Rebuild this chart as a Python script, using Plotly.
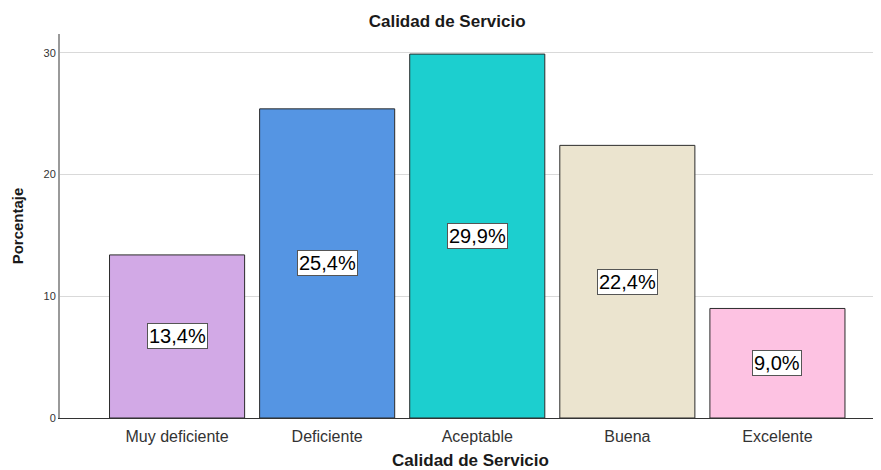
import plotly.graph_objects as go

# 데이터
categories = ["Muy deficiente", "Deficiente", "Aceptable", "Buena", "Excelente"]
values = [13.4, 25.4, 29.9, 22.4, 9.0]
labels = ["13,4%", "25,4%", "29,9%", "22,4%", "9,0%"]
colors = ["#d2a9e6", "#5595e3", "#1ccfcf", "#ebe4cf", "#fdc2e2"]
y_ticks = [0, 10, 20, 30]

FONT = "Liberation Sans, Arial, sans-serif"

fig = go.Figure(go.Bar(
    x=categories,
    y=values,
    width=0.9,
    marker=dict(color=colors, line=dict(color="#2b2b2b", width=1)),
    showlegend=False,
    hoverinfo="skip"
))

# 막대 가운데 값 라벨
for cat, val, lab in zip(categories, values, labels):
    fig.add_annotation(
        x=cat, y=val / 2,
        text=lab,
        showarrow=False,
        font=dict(size=20, color="#000000", family=FONT),
        bgcolor="white",
        bordercolor="#555555",
        borderwidth=1,
        borderpad=1
    )

# 페이지 body 여백(8px) 보정
fig.update_layout(
    width=873,
    height=462,
    title=dict(
        text="<b>Calidad de Servicio</b>",
        font=dict(size=17, color="#1a1a1a", family=FONT),
        x=0.503, xanchor="center",
        y=0.972, yanchor="middle"
    ),
    xaxis=dict(
        title=dict(text="<b>Calidad de Servicio</b>",
                   font=dict(size=17, color="#1a1a1a", family=FONT),
                   standoff=14),
        range=[-0.78, 4.69],
        showgrid=False,
        showline=True,
        linecolor="#333333",
        linewidth=1,
        ticks="",
        ticklabelstandoff=4,
        tickfont=dict(size=16, color="#333333", family=FONT)
    ),
    yaxis=dict(
        title=dict(text="<b>Porcentaje</b>",
                   font=dict(size=15, color="#1a1a1a", family=FONT),
                   standoff=16),
        range=[0, 31.55],
        tickvals=y_ticks,
        showgrid=True,
        gridcolor="#d9d9d9",
        gridwidth=1,
        zeroline=False,
        showline=True,
        linecolor="#9a9a9a",
        linewidth=2,
        ticks="",
        tickfont=dict(size=11, color="#333333", family=FONT)
    ),
    margin=dict(l=52, r=0, t=26, b=52),
    paper_bgcolor="white",
    plot_bgcolor="white",
    bargap=0.1
)

fig.write_html("out.html")
